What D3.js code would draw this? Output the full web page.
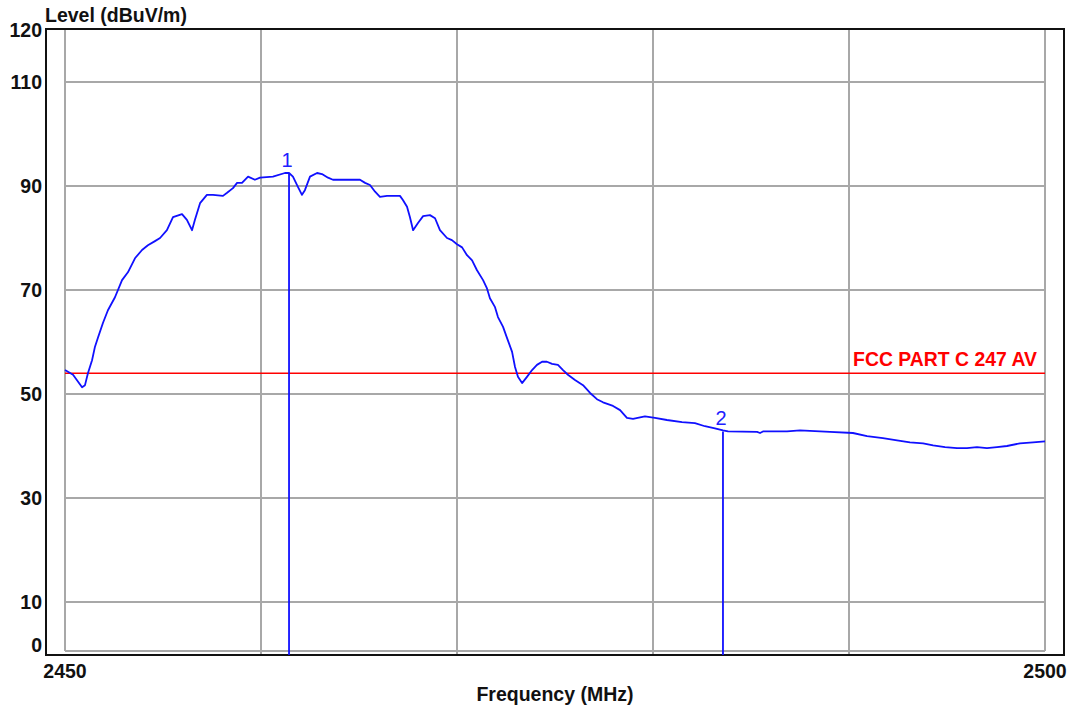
<!DOCTYPE html>
<html>
<head>
<meta charset="utf-8">
<script src="https://cdn.jsdelivr.net/npm/d3@7"></script>
<style>
  html, body { margin: 0; padding: 0; background: #fff; }
  svg { display: block; }
  text { font-family: "Liberation Sans", Arial, sans-serif; }
</style>
</head>
<body>
<svg id="chart" width="1073" height="710"></svg>
<script>
// ---- Data ----
const freqMHz = [
  2450.0, 2450.41, 2450.87, 2451.02, 2451.17, 2451.38, 2451.53, 2451.68, 2451.94, 2452.19,
  2452.55, 2452.91, 2453.21, 2453.57, 2453.93, 2454.23, 2454.59, 2454.85, 2455.20, 2455.51,
  2455.97, 2456.22, 2456.48, 2456.63, 2456.89, 2457.24, 2457.55, 2458.06, 2458.27, 2458.57,
  2458.78, 2459.03, 2459.34, 2459.69, 2459.95, 2460.61, 2461.22, 2461.43, 2461.63, 2461.89,
  2462.09, 2462.24, 2462.50, 2462.86, 2463.11, 2463.42, 2463.67, 2465.05, 2465.31, 2465.56,
  2465.82, 2466.07, 2466.43, 2467.09, 2467.24, 2467.45, 2467.60, 2467.76, 2468.01, 2468.27,
  2468.62, 2468.88, 2469.13, 2469.49, 2469.74, 2470.00, 2470.26, 2470.51, 2470.77, 2471.02,
  2471.33, 2471.53, 2471.68, 2471.94, 2472.09, 2472.35, 2472.55, 2472.81, 2472.96, 2473.11,
  2473.32, 2473.57, 2473.83, 2474.08, 2474.34, 2474.59, 2474.85, 2475.15, 2475.41, 2475.66,
  2476.02, 2476.43, 2476.79, 2477.14, 2477.45, 2477.96, 2478.32, 2478.67, 2478.98, 2479.34,
  2479.59, 2480.10, 2480.71, 2481.48, 2482.14, 2482.65, 2483.16, 2483.57, 2483.83, 2485.31,
  2485.46, 2485.61, 2486.84, 2487.50, 2489.03, 2490.20, 2490.92, 2491.73, 2492.45, 2493.11,
  2493.78, 2494.29, 2494.90, 2495.51, 2496.02, 2496.53, 2497.04, 2497.55, 2498.06, 2498.72,
  2499.39, 2500.0
];
const levelDb = [
  54.6, 53.7, 51.3, 51.7, 54.0, 56.5, 59.1, 60.8, 63.7, 66.1,
  68.6, 71.9, 73.4, 76.1, 77.7, 78.6, 79.4, 80.0, 81.5, 84.0,
  84.6, 83.5, 81.5, 83.5, 86.7, 88.3, 88.3, 88.1, 88.7, 89.6,
  90.6, 90.6, 91.8, 91.2, 91.6, 91.8, 92.5, 92.5, 91.8, 89.8,
  88.3, 89.2, 91.8, 92.5, 92.3, 91.6, 91.2, 91.2, 90.6, 90.2,
  88.9, 87.9, 88.1, 88.1, 87.3, 86.0, 84.0, 81.5, 82.9, 84.2,
  84.4, 83.8, 81.5, 80.0, 79.6, 78.8, 78.2, 76.7, 75.7, 73.8,
  71.9, 70.3, 68.4, 66.7, 64.8, 62.9, 60.8, 58.1, 55.2, 53.3,
  52.1, 53.3, 54.6, 55.6, 56.2, 56.2, 55.8, 55.6, 54.6, 53.7,
  52.7, 51.7, 50.2, 49.0, 48.4, 47.7, 46.9, 45.4, 45.2, 45.5,
  45.7, 45.4, 45.0, 44.6, 44.4, 43.8, 43.4, 43.0, 42.8, 42.7,
  42.5, 42.8, 42.8, 43.0, 42.7, 42.5, 41.9, 41.5, 41.1, 40.7,
  40.5, 40.1, 39.8, 39.6, 39.6, 39.8, 39.6, 39.8, 40.0, 40.5,
  40.7, 40.9
];
const markerFreq = [2461.43, 2483.57];
const markerLevel = [92.5, 42.8];
const markerLabel = ["1", "2"];
const limitLevel = 54;
const limitLabel = "FCC PART C 247 AV";
const yTickValues = [0, 10, 30, 50, 70, 90, 110, 120];
const yGridValues = [0, 10, 30, 50, 70, 90, 110];
const xGridValues = [2450, 2460, 2470, 2480, 2490, 2500];
const xTickValues = [2450, 2500];
const yTitle = "Level (dBuV/m)";
const xTitle = "Frequency (MHz)";

// ---- Chart ----
const svg = d3.select("#chart");
const x = d3.scaleLinear().domain([2450, 2500]).range([65, 1045]);
const y = d3.scaleLinear().domain([0, 120]).range([654, 30]);
const frame = { left: 46, right: 1064, top: 29, bottom: 655 };
const gridBottom = y(0) - 3;

// grid
const grid = svg.append("g").attr("stroke", "#a8a8a8").attr("stroke-width", 2);
grid.selectAll("line.h").data(yGridValues).join("line")
  .attr("class", "h")
  .attr("x1", x(2450)).attr("x2", x(2500))
  .attr("y1", d => d === 0 ? gridBottom : y(d)).attr("y2", d => d === 0 ? gridBottom : y(d));
grid.selectAll("line.v").data(xGridValues).join("line")
  .attr("class", "v")
  .attr("x1", d => x(d)).attr("x2", d => x(d))
  .attr("y1", frame.top).attr("y2", (d, i) => (i === 0 || i === xGridValues.length - 1) ? gridBottom : frame.bottom);

// frame
svg.append("rect")
  .attr("x", frame.left).attr("y", frame.top)
  .attr("width", frame.right - frame.left).attr("height", frame.bottom - frame.top)
  .attr("fill", "none").attr("stroke", "#111").attr("stroke-width", 2);

// limit line
svg.append("line")
  .attr("x1", x(2450)).attr("x2", x(2500))
  .attr("y1", y(limitLevel)).attr("y2", y(limitLevel))
  .attr("stroke", "#ff0000").attr("stroke-width", 1.6);
svg.append("text")
  .attr("x", 1037).attr("y", y(limitLevel) - 7)
  .attr("text-anchor", "end")
  .attr("fill", "#ff0000").attr("font-weight", "bold").attr("font-size", 19.4)
  .text(limitLabel);

// trace
const pts = freqMHz.map((f, i) => [f, levelDb[i]]);
svg.append("path")
  .datum(pts)
  .attr("fill", "none")
  .attr("stroke", "#1010ff").attr("stroke-width", 1.8)
  .attr("stroke-linejoin", "round")
  .attr("d", d3.line().x(d => x(d[0])).y(d => y(d[1])));

// markers
const markers = markerFreq.map((f, i) => ({ f, v: markerLevel[i], l: markerLabel[i] }));
svg.selectAll("line.mk").data(markers).join("line")
  .attr("class", "mk")
  .attr("x1", d => x(d.f)).attr("x2", d => x(d.f))
  .attr("y1", d => y(d.v)).attr("y2", frame.bottom)
  .attr("stroke", "#1010ff").attr("stroke-width", 1.8);
svg.selectAll("text.mk").data(markers).join("text")
  .attr("class", "mk")
  .attr("x", d => x(d.f) - 2).attr("y", d => y(d.v) - 6)
  .attr("text-anchor", "middle")
  .attr("fill", "#2020ff").attr("font-size", 20)
  .text(d => d.l);

// y tick labels
svg.selectAll("text.yt").data(yTickValues).join("text")
  .attr("class", "yt")
  .attr("x", 42)
  .attr("y", d => d === 0 ? y(0) - 2 : y(d) + 7)
  .attr("text-anchor", "end")
  .attr("font-weight", "bold").attr("font-size", 19.5).attr("fill", "#111")
  .text(d => d);

// x tick labels
svg.selectAll("text.xt").data(xTickValues).join("text")
  .attr("class", "xt")
  .attr("x", d => x(d))
  .attr("y", 678)
  .attr("text-anchor", "middle")
  .attr("font-weight", "bold").attr("font-size", 19.5).attr("fill", "#111")
  .text(d => d);

// titles
svg.append("text")
  .attr("x", 45).attr("y", 22)
  .attr("font-weight", "bold").attr("font-size", 19.5).attr("fill", "#111")
  .text(yTitle);
svg.append("text")
  .attr("x", 555).attr("y", 701)
  .attr("text-anchor", "middle")
  .attr("font-weight", "bold").attr("font-size", 19.5).attr("fill", "#111")
  .text(xTitle);
</script>
</body>
</html>
